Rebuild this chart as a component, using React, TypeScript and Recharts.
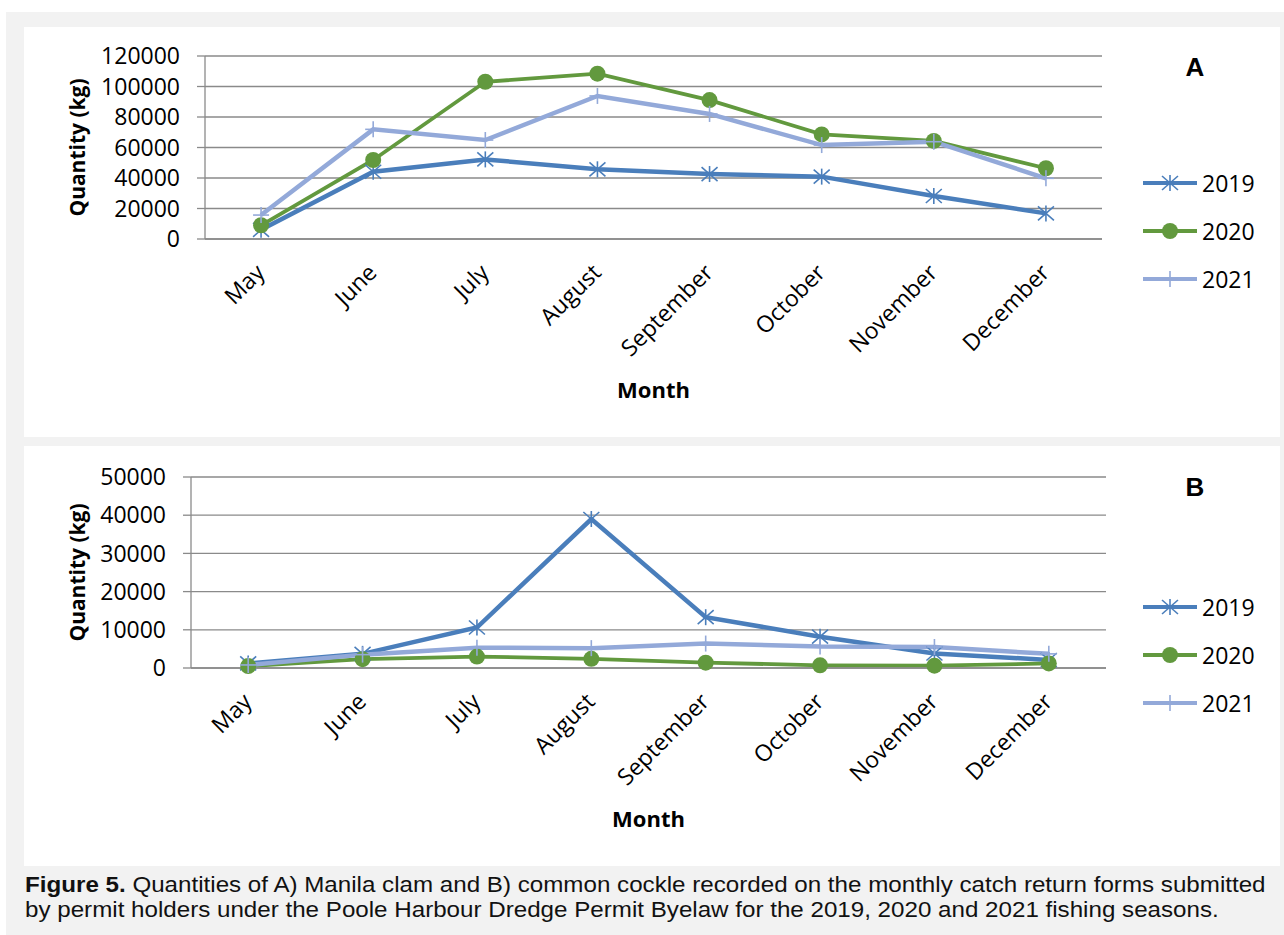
import { LineChart, Line, XAxis, YAxis, CartesianGrid, Legend } from 'recharts';

const months = ['May', 'June', 'July', 'August', 'September', 'October', 'November', 'December'];
const years = ['2019', '2020', '2021'];

// A) Manila clam (kg)
const clam2019 = [6000, 44100, 52200, 45700, 42600, 40900, 28200, 16800];
const clam2020 = [9000, 51800, 103100, 108400, 91100, 68600, 64300, 46400];
const clam2021 = [15700, 71900, 64900, 93800, 82000, 61600, 63800, 39800];

// B) common cockle (kg)
const cockle2019 = [1200, 3700, 10600, 39000, 13300, 8200, 3800, 2100];
const cockle2020 = [500, 2300, 3000, 2400, 1400, 700, 600, 1200];
const cockle2021 = [800, 3500, 5300, 5200, 6400, 5600, 5500, 3700];

const clamTicks = [0, 20000, 40000, 60000, 80000, 100000, 120000];
const cockleTicks = [0, 10000, 20000, 30000, 40000, 50000];

const clamData = months.map((m, i) => ({ month: m, '2019': clam2019[i], '2020': clam2020[i], '2021': clam2021[i] }));
const cockleData = months.map((m, i) => ({ month: m, '2019': cockle2019[i], '2020': cockle2020[i], '2021': cockle2021[i] }));

// category boundaries for the Excel-style tick marks
const edgeTicks = months.map((_, i) => i).concat(months.length);

const style: Record<string, { color: string; width: number; marker: string }> = {
  '2019': { color: '#4a7ebb', width: 4.5, marker: 'star' },
  '2020': { color: '#62993e', width: 3.8, marker: 'circle' },
  '2021': { color: '#93a9d9', width: 4.5, marker: 'plus' },
};

const axisGrey = '#8a8a8a';
const font = '"Open Sans", sans-serif';

function Marker({ cx, cy, kind, color }: any) {
  if (cx == null || cy == null) return null;
  if (kind === 'circle') return <circle cx={cx} cy={cy} r={8} fill={color} />;
  if (kind === 'star') {
    return (
      <g stroke={color} strokeWidth={1.6}>
        <line x1={cx - 8} y1={cy - 7} x2={cx + 8} y2={cy + 7} />
        <line x1={cx - 8} y1={cy + 7} x2={cx + 8} y2={cy - 7} />
        <line x1={cx} y1={cy - 8} x2={cx} y2={cy + 8} />
      </g>
    );
  }
  return (
    <g stroke={color} strokeWidth={1.6}>
      <line x1={cx - 8} y1={cy} x2={cx + 8} y2={cy} />
      <line x1={cx} y1={cy - 8} x2={cx} y2={cy + 8} />
    </g>
  );
}

const MonthTick = ({ x, y, payload }: any) => {
  const ax = x + 5;
  const ay = y + 35;
  return (
    <text x={ax} y={ay} transform={`rotate(-45 ${ax} ${ay})`} textAnchor="end" fontSize={23} fontFamily={font} fill="#000">
      {payload.value}
    </text>
  );
};

const LegendContent = ({ payload }: any) => (
  <div>
    {(payload || []).map((entry: any) => {
      const s = style[entry.dataKey];
      return (
        <div key={entry.value} style={{ display: 'flex', alignItems: 'center', height: 48 }}>
          <svg width={56} height={20}>
            <line x1={1} y1={10} x2={55} y2={10} stroke={s.color} strokeWidth={4} />
            <Marker cx={28} cy={10} kind={s.marker} color={s.color} />
          </svg>
          <span style={{ marginLeft: 4, fontSize: 23, fontFamily: font, color: '#000' }}>{entry.value}</span>
        </div>
      );
    })}
  </div>
);

function Panel({ data, ticks, max, yWidth, height, top, right, legendTop }: any) {
  return (
    <LineChart width={1256} height={height} data={data} margin={{ top, right, left: 0, bottom: 0 }}>
      <CartesianGrid vertical={false} stroke={axisGrey} strokeWidth={1.3} />
      <XAxis
        xAxisId="edges"
        type="number"
        domain={[0, months.length]}
        ticks={edgeTicks}
        tick={false}
        tickSize={8}
        tickLine={{ stroke: axisGrey, strokeWidth: 1.3 }}
        axisLine={false}
        height={0}
      />
      <XAxis
        dataKey="month"
        scale="band"
        height={198}
        tickLine={false}
        tickSize={0}
        tickMargin={0}
        axisLine={{ stroke: axisGrey, strokeWidth: 1.3 }}
        interval={0}
        tick={<MonthTick />}
        label={{
          content: ({ viewBox }: any) => (
            <text
              x={viewBox.x + viewBox.width / 2}
              y={viewBox.y + 150}
              textAnchor="middle"
              dominantBaseline="central"
              fontSize={22}
              fontWeight="bold"
              fontFamily={font}
              fill="#000"
            >
              Month
            </text>
          ),
        }}
      />
      <YAxis
        width={yWidth}
        domain={[0, max]}
        ticks={ticks}
        interval={0}
        tickSize={8}
        tickMargin={17}
        tickLine={{ stroke: axisGrey, strokeWidth: 1.3 }}
        axisLine={{ stroke: axisGrey, strokeWidth: 1.3 }}
        tick={{ fontSize: 23, fontFamily: font, fill: '#000' }}
        label={{
          content: ({ viewBox }: any) => {
            const cx = 53;
            const cy = viewBox.y + viewBox.height / 2;
            return (
              <text
                x={cx}
                y={cy}
                transform={`rotate(-90 ${cx} ${cy})`}
                textAnchor="middle"
                dominantBaseline="central"
                fontSize={21}
                fontWeight="bold"
                fontFamily={font}
                fill="#000"
              >
                Quantity (kg)
              </text>
            );
          },
        }}
      />
      <Legend
        layout="vertical"
        align="center"
        verticalAlign="middle"
        content={<LegendContent />}
        wrapperStyle={{ left: 1118, top: legendTop, width: 140 }}
      />
      {years.map((yr) => (
        <Line
          key={yr}
          dataKey={yr}
          name={yr}
          stroke={style[yr].color}
          strokeWidth={style[yr].width}
          isAnimationActive={false}
          dot={(p: any) => <Marker key={`${yr}-${p.index}`} cx={p.cx} cy={p.cy} kind={style[yr].marker} color={style[yr].color} />}
          activeDot={false}
        />
      ))}
    </LineChart>
  );
}

const letterStyle: any = {
  position: 'absolute',
  width: 40,
  textAlign: 'center',
  fontFamily: '"Liberation Sans", Arial, sans-serif',
  fontWeight: 'bold',
  fontSize: 26,
  color: '#000',
};

export default function App() {
  return (
    <div style={{ position: 'relative', width: 1284, height: 935, background: '#fff', overflow: 'hidden' }}>
      <style>{'body { margin: 0; }'}</style>
      <div style={{ position: 'absolute', left: 6, top: 12, right: 0, bottom: 0, background: '#f2f2f2' }} />
      <div style={{ position: 'absolute', left: 24, top: 27, width: 1256, height: 410, background: '#fff' }}>
        <Panel data={clamData} ticks={clamTicks} max={120000} yWidth={181} height={410} top={29} right={178} legendTop={132} />
      </div>
      <div style={{ position: 'absolute', left: 24, top: 446, width: 1256, height: 420, background: '#fff' }}>
        <Panel data={cockleData} ticks={cockleTicks} max={50000} yWidth={167} height={420} top={31} right={174} legendTop={137} />
      </div>
      <div style={{ ...letterStyle, left: 1175, top: 52 }}>A</div>
      <div style={{ ...letterStyle, left: 1175, top: 472 }}>B</div>
      <div
        style={{
          position: 'absolute',
          left: 25,
          top: 872,
          width: 1140,
          fontFamily: '"Liberation Sans", Arial, sans-serif',
          fontSize: 22,
          lineHeight: '25px',
          color: '#111',
          whiteSpace: 'nowrap',
          transform: 'scaleX(1.098)',
          transformOrigin: 'left top',
        }}
      >
        <b>Figure 5.</b> Quantities of A) Manila clam and B) common cockle recorded on the monthly catch return forms submitted
        <br />
        by permit holders under the Poole Harbour Dredge Permit Byelaw for the 2019, 2020 and 2021 fishing seasons.
      </div>
    </div>
  );
}
